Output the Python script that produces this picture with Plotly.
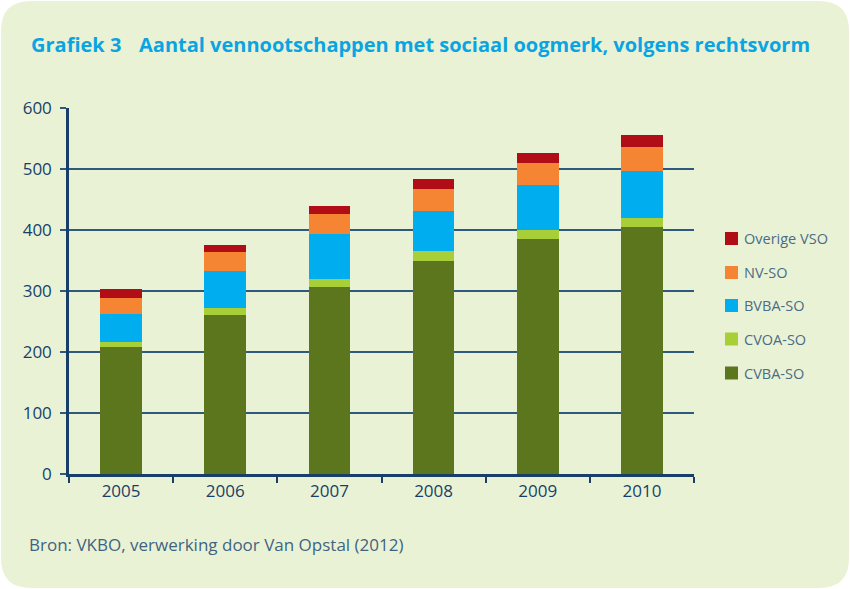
import plotly.graph_objects as go

years = ["2005", "2006", "2007", "2008", "2009", "2010"]
cvba_so = [209, 261, 307, 349, 385, 405]
cvoa_so = [8, 11, 13, 17, 15, 15]
bvba_so = [46, 60, 73, 65, 74, 76]
nv_so = [26, 32, 33, 36, 36, 40]
overige_vso = [15, 11, 13, 17, 16, 20]

series_names = ["CVBA-SO", "CVOA-SO", "BVBA-SO", "NV-SO", "Overige VSO"]
series_values = [cvba_so, cvoa_so, bvba_so, nv_so, overige_vso]
series_colors = ["#5b761c", "#a9cf38", "#00aeef", "#f68533", "#b00d17"]

W, H = 850, 589
L, R, T, B = 69, 694, 108, 474


def px2x(p):
    return (p - L) / (R - L)


def py2y(p):
    return (B - p) / (B - T)


fig = go.Figure()
for name, vals, col in zip(series_names, series_values, series_colors):
    fig.add_trace(go.Bar(
        x=years, y=vals, name=name, marker_color=col,
        marker_line_width=0, showlegend=False,
    ))

# rounded background panel
x0, y0, x1, y1, r = 1, 1, 849, 588, 30
pts = [
    ("M", x0 + r, y0), ("L", x1 - r, y0), ("Q", x1, y0, x1, y0 + r),
    ("L", x1, y1 - r), ("Q", x1, y1, x1 - r, y1), ("L", x0 + r, y1),
    ("Q", x0, y1, x0, y1 - r), ("L", x0, y0 + r), ("Q", x0, y0, x0 + r, y0),
]
path = ""
for p in pts:
    coords = p[1:]
    s = []
    for i in range(0, len(coords), 2):
        s.append(f"{px2x(coords[i]):.5f},{py2y(coords[i+1]):.5f}")
    path += p[0] + " " + " ".join(s) + " "
path += "Z"

fig.add_shape(type="path", path=path, xref="paper", yref="paper",
              fillcolor="#eaf2d6", line_width=0, layer="below")

# legend (top entry = last series)
leg_y = [238.5, 272.5, 305.5, 339, 373]
for i, (name, col) in enumerate(zip(series_names[::-1], series_colors[::-1])):
    cy = leg_y[i]
    fig.add_shape(type="rect", xref="paper", yref="paper",
                  x0=px2x(725), x1=px2x(738), y0=py2y(cy - 6.5), y1=py2y(cy + 6.5),
                  fillcolor=col, line_width=0)
    fig.add_annotation(text=name, xref="paper", yref="paper",
                       x=px2x(742), y=py2y(cy), xanchor="left", yanchor="middle",
                       showarrow=False,
                       font=dict(size=14.5, color="#4a6c86", family="Open Sans"))

navy = "#173f69"
grid = "#2f5a7c"

fig.update_layout(
    width=W, height=H,
    margin=dict(l=L, r=W - R, t=T, b=H - B, pad=0),
    paper_bgcolor="white",
    plot_bgcolor="rgba(0,0,0,0)",
    barmode="stack",
    bargap=0.6,
    font=dict(family="Open Sans", color=navy),
    showlegend=False,
    xaxis=dict(
        type="category", showgrid=False, showline=True, linecolor=navy,
        linewidth=2.5, ticks="outside", tickson="boundaries", ticklen=6,
        tickwidth=2, tickcolor=navy, range=[-0.5, 5.5],
        tickfont=dict(size=17, color=navy, family="Open Sans"),
    ),
    yaxis=dict(
        range=[0, 600], dtick=100, showgrid=True, gridcolor=grid,
        gridwidth=1.6, showline=True, linecolor=navy, linewidth=2.5,
        ticks="outside", ticklen=6, tickwidth=1.6, tickcolor=grid,
        tickfont=dict(size=17, color=navy, family="Open Sans"),
        zeroline=False, ticklabelstandoff=5,
    ),
)

title_font = dict(size=20, color="#0aa4e2", family="Open Sans")
fig.add_annotation(
    text="<b>Grafiek 3</b>", xref="paper", yref="paper",
    x=px2x(29), y=py2y(44), xanchor="left", yanchor="middle",
    showarrow=False, font=title_font,
)
fig.add_annotation(
    text="<b>Aantal vennootschappen met sociaal oogmerk, volgens rechtsvorm</b>",
    xref="paper", yref="paper",
    x=px2x(137), y=py2y(44), xanchor="left", yanchor="middle",
    showarrow=False, font=title_font,
)
fig.add_annotation(
    text="Bron: VKBO, verwerking door Van Opstal (2012)",
    xref="paper", yref="paper",
    x=px2x(27), y=py2y(544), xanchor="left", yanchor="middle",
    showarrow=False, font=dict(size=17, color="#3f6480", family="Open Sans"),
)

fig.write_html(
    "out.html",
    config={"displayModeBar": False},
    post_script="document.body.style.margin='0';document.body.style.overflow='hidden';",
)
